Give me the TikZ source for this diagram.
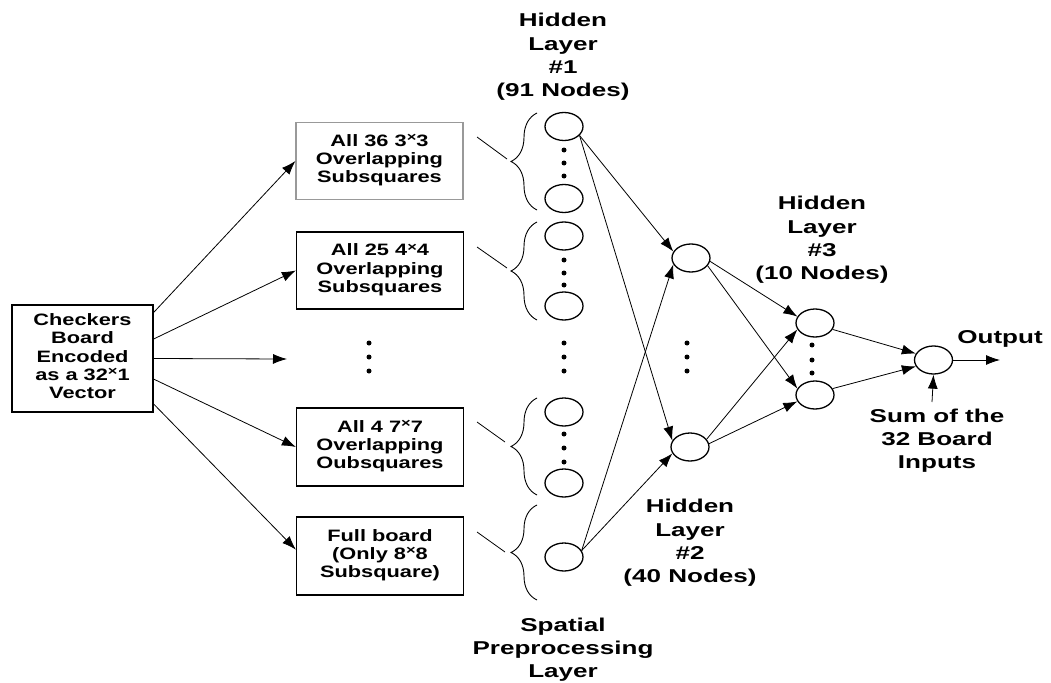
\documentclass[tikz,border=0pt]{standalone}
\usepackage{fontspec}
\usepackage{graphicx}
\setmainfont{Liberation Sans}
\usetikzlibrary{shapes.geometric,arrows.meta,decorations.pathreplacing,calc}
\newcommand\xmul{\raisebox{0.55ex}{\fontsize{12.5}{12.5}\selectfont ×}}
\newcommand\boxtxt{\bfseries\fontsize{16.5}{18.3}\selectfont}
\newcommand\labtxt{\bfseries\fontsize{18.6}{23.3}\selectfont}
\newcommand\bt[1]{\scalebox{1.32}[1]{\begin{tabular}{@{}c@{}}#1\end{tabular}}}
\newcommand\lt[1]{\scalebox{1.4}[1]{\begin{tabular}{@{}c@{}}#1\end{tabular}}}
\begin{document}
\begin{tikzpicture}[x=1pt,y=-1pt,
  blk/.style={draw, line width=1.2pt, minimum width=167, minimum height=77, align=center, font=\boxtxt, inner sep=0},
  neuron/.style={draw, ellipse, line width=1.3pt, minimum width=38, minimum height=28, inner sep=0},
  lab/.style={align=center, font=\labtxt, inner sep=0},
  arr/.style={-{Latex[length=14pt,width=10pt]}, line width=0.8pt},
  wire/.style={line width=0.8pt},
  pt/.style={circle, fill, inner sep=0, minimum size=5},
  brc/.style={decorate, decoration={brace, amplitude=26pt}, line width=0.9pt}]
\useasboundingbox (0,0) rectangle (1051,682);

% input box
\node[blk, minimum width=141, minimum height=107] (in) at (82.5,358.5)
  {\bt{Checkers\\Board\\Encoded\\as a 32\xmul1\\Vector}};

% preprocessing boxes
\node[blk, draw=gray!80] (b1) at (379.5,161) {\bt{All 36 3\xmul3\\Overlapping\\Subsquares}};
\node[blk] (b2) at (380,270.5) {\bt{All 25 4\xmul4\\Overlapping\\Subsquares}};
\node[blk, minimum height=78] (b3) at (380,447) {\bt{All 4 7\xmul7\\Overlapping\\Oubsquares}};
\node[blk, minimum height=78] (b4) at (380,556) {\bt{Full board\\(Only 8\xmul8\\Subsquare)}};
\coordinate (mid) at (287,359);

% dots between boxes
\node[pt] (d1) at (369,343) {};
\node[pt] (d2) at (369,357) {};
\node[pt] (d3) at (369,371) {};

% arrows from input
\draw[arr] ($(in.north east)!0.075!(in.south east)$) -- (b1.west);
\draw[arr] ($(in.north east)!0.32!(in.south east)$) -- (b2.west);
\draw[arr] ($(in.north east)!0.5!(in.south east)$) -- (mid);
\draw[arr] ($(in.north east)!0.69!(in.south east)$) -- (b3.west);
\draw[arr] ($(in.north east)!0.92!(in.south east)$) -- ($(b4.north west)!0.42!(b4.south west)$);

% hidden layer 1 neurons
\node[neuron] (c1) at (564,126.5) {};
\node[neuron] (c2) at (564,198.5) {};
\node[neuron] (c3) at (564,236) {};
\node[neuron] (c4) at (564,306) {};
\node[neuron] (c5) at (564,412) {};
\node[neuron] (c6) at (564,483) {};
\node[neuron] (c7) at (564,557) {};
\foreach \y [count=\i] in {150,163,176,260,273,285,343,357,371,434,448,462}
  \node[pt] (e\i) at (564,\y) {};

% braces
\draw[brc] (537,210) -- (537,113);
\draw[brc] (537,320) -- (537,222);
\draw[brc] (537,495) -- (537,398);
\draw[brc] (537,600) -- (537,505);
\coordinate (s1) at (477,137); \coordinate (t1) at (507,159);
\coordinate (s2) at (477,247); \coordinate (t2) at (507,268);
\coordinate (s3) at (477,422); \coordinate (t3) at (505,442);
\coordinate (s4) at (477,532); \coordinate (t4) at (505,552);
\draw[wire] (s1) -- (t1);
\draw[wire] (s2) -- (t2);
\draw[wire] (s3) -- (t3);
\draw[wire] (s4) -- (t4);

% hidden layer 2
\node[neuron] (h2a) at (691,258) {};
\node[neuron] (h2b) at (690,447) {};
\node[pt] (f1) at (687,343) {};
\node[pt] (f2) at (687,357) {};
\node[pt] (f3) at (687,371) {};

% hidden layer 3
\node[neuron] (h3a) at (815,323) {};
\node[neuron] (h3b) at (815,395) {};
\node[pt] (g1) at (812,345) {};
\node[pt] (g2) at (812,360) {};
\node[pt] (g3) at (812,373) {};

% output
\node[neuron] (out) at (933.5,360) {};
\coordinate (oend) at (1000,360);
\coordinate (sumstart) at (932,402);

% connections
\draw[arr] (c1.330) -- (h2a.160);
\draw[arr] (c1.330) -- (h2b.160);
\draw[arr] (c7.20) -- (h2a.200);
\draw[arr] (c7.20) -- (h2b.200);
\draw[arr] (h2a.350) -- (h3a.160);
\draw[arr] (h2a.335) -- (h3b.160);
\draw[arr] (h2b.25) -- (h3a.200);
\draw[arr] (h2b.10) -- (h3b.200);
\draw[arr] (h3a.340) -- (out.160);
\draw[arr] (h3b.20) -- (out.200);
\draw[arr] (out.east) -- (oend);
\draw[arr] (sumstart) -- (out.south);

% labels
\node[lab] (l1) at (563,57) {\lt{Hidden\\Layer\\\#1\\(91 Nodes)}};
\node[lab] (l2) at (690,543) {\lt{Hidden\\Layer\\\#2\\(40 Nodes)}};
\node[lab] (l3) at (822,240) {\lt{Hidden\\Layer\\\#3\\(10 Nodes)}};
\node[lab] (l4) at (563,650) {\lt{Spatial\\Preprocessing\\Layer}};
\node[lab] (lo) at (1000,339) {\lt{Output}};
\node[lab] (ls) at (937,441) {\lt{Sum of the\\32 Board\\Inputs}};
\end{tikzpicture}
\end{document}
